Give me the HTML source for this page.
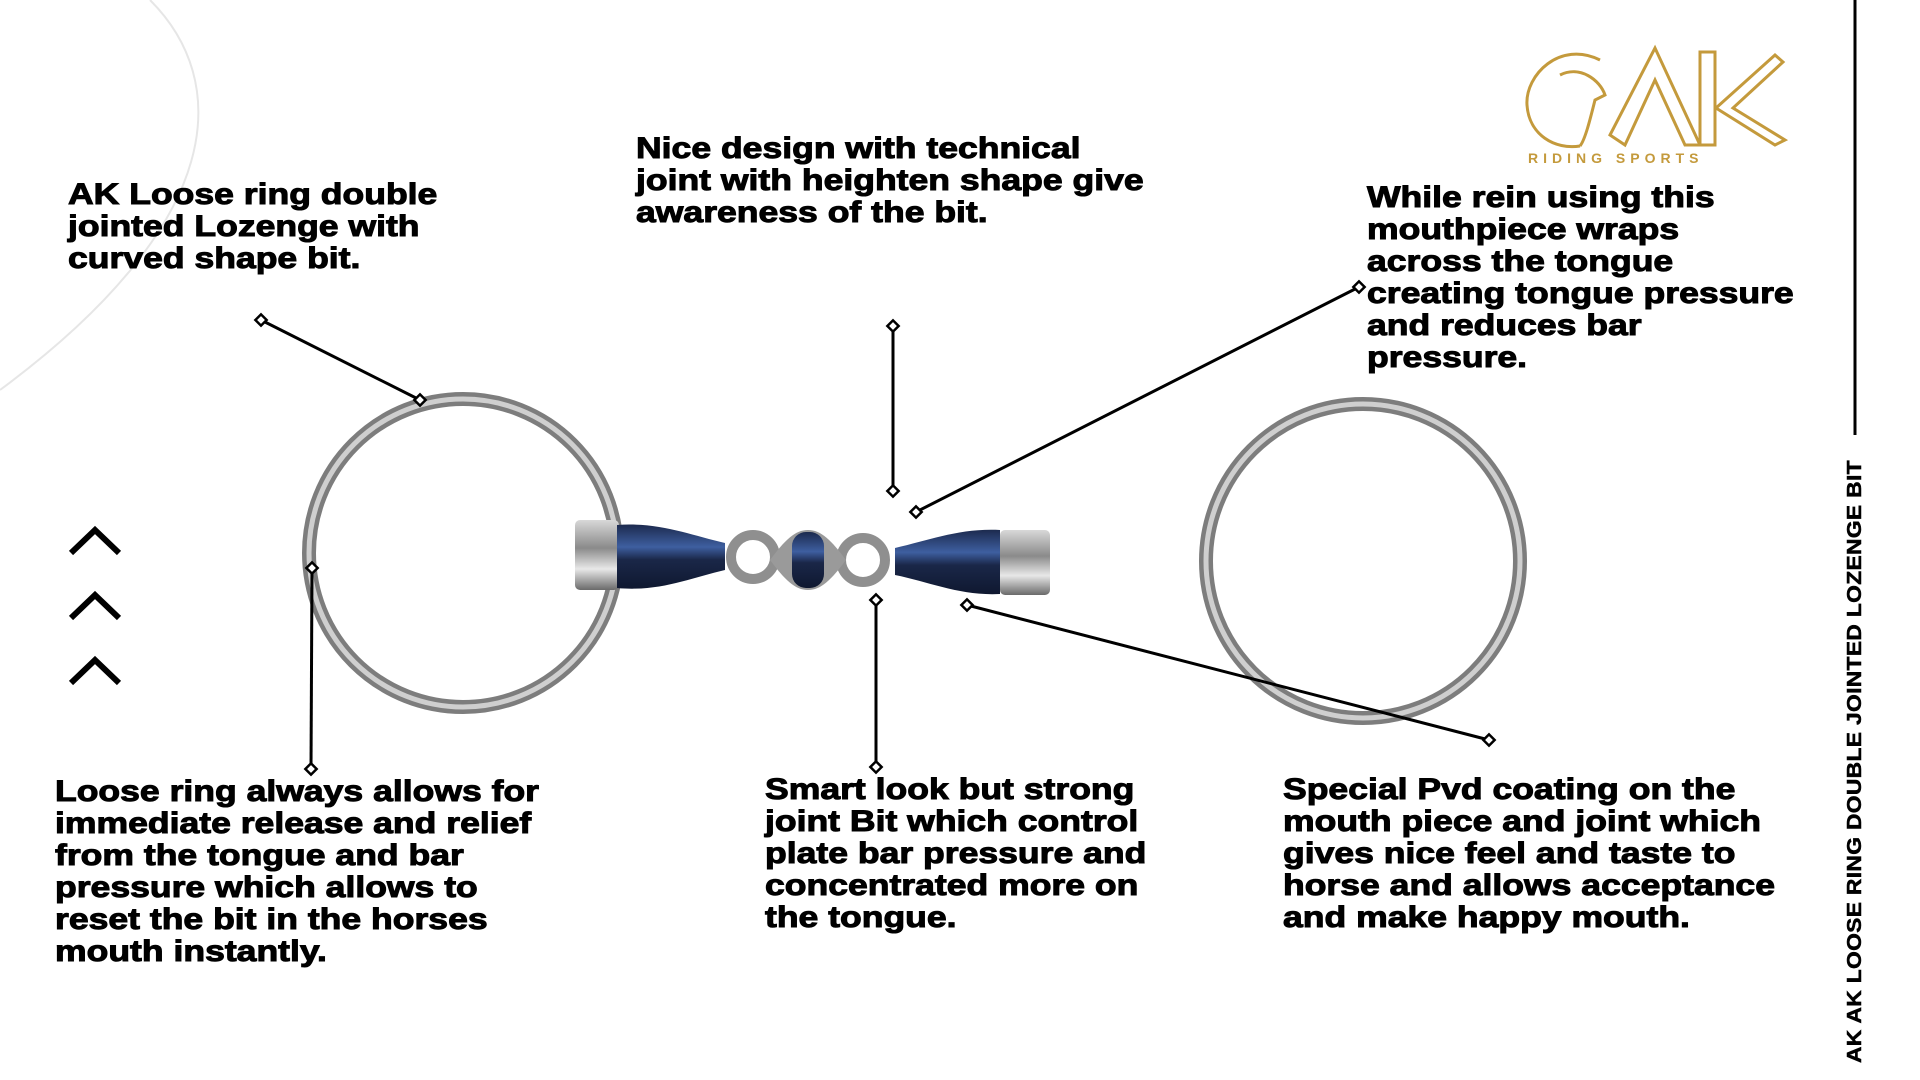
<!DOCTYPE html>
<html><head><meta charset="utf-8"><style>
html,body{margin:0;padding:0;background:#fff;}
body{width:1920px;height:1080px;position:relative;overflow:hidden;font-family:"Liberation Sans",Arial,sans-serif;}
.t{position:absolute;font-weight:bold;font-size:30px;line-height:32px;color:#000;-webkit-text-stroke:1px #000;letter-spacing:0px;white-space:nowrap;transform-origin:0 0;transform:scaleX(1.185);}
.v{position:absolute;left:1855px;top:1063px;transform-origin:0 0;transform:rotate(-90deg) translateY(-50%) scaleX(1.14);font-weight:bold;font-size:20px;line-height:20px;white-space:nowrap;letter-spacing:0.3px;-webkit-text-stroke:0.5px #000;}
</style></head><body>
<svg width="1920" height="1080" style="position:absolute;left:0;top:0">
<defs>
<linearGradient id="blue" x1="0" y1="0" x2="0" y2="1">
<stop offset="0" stop-color="#1c2a4e"/><stop offset="0.35" stop-color="#3e5fa0"/><stop offset="0.55" stop-color="#1a2748"/><stop offset="1" stop-color="#0f1830"/></linearGradient>
<linearGradient id="steel" x1="0" y1="0" x2="0" y2="1">
<stop offset="0" stop-color="#d8d8d8"/><stop offset="0.4" stop-color="#8a8a8a"/><stop offset="0.7" stop-color="#e8e8e8"/><stop offset="1" stop-color="#6a6a6a"/></linearGradient>
</defs>
<path d="M150,0 C230,80 230,220 0,390" fill="none" stroke="#e6e6e6" stroke-width="2"/>
<circle cx="463" cy="553" r="154" fill="none" stroke="#7d7d7d" stroke-width="14"/>
<circle cx="463" cy="553" r="154" fill="none" stroke="#cfcfcf" stroke-width="5"/>
<circle cx="1363" cy="561" r="157" fill="none" stroke="#7d7d7d" stroke-width="14"/>
<circle cx="1363" cy="561" r="157" fill="none" stroke="#cfcfcf" stroke-width="5"/>
<rect x="575" y="520" width="44" height="70" rx="5" fill="url(#steel)"/>
<path d="M617,525 C660,522 690,535 725,543 L725,570 C690,578 660,592 617,588 Z" fill="url(#blue)"/>
<path d="M1000,530 C960,528 930,540 895,548 L895,575 C930,582 960,596 1000,594 Z" fill="url(#blue)"/>
<rect x="1000" y="530" width="50" height="65" rx="5" fill="url(#steel)"/>
<circle cx="753" cy="557" r="22" fill="none" stroke="#8f8f8f" stroke-width="10"/>
<circle cx="863" cy="560" r="22" fill="none" stroke="#8f8f8f" stroke-width="10"/>
<path d="M770,560 C785,540 795,530 808,530 C821,530 831,540 846,560 C831,580 821,590 808,590 C795,590 785,580 770,560Z" fill="#9a9a9a"/>
<rect x="792" y="532" width="32" height="56" rx="14" fill="url(#blue)"/>
<g stroke="#000" stroke-width="3" fill="#fff">
<line x1="261" y1="320" x2="420" y2="400"/>
<line x1="893" y1="326" x2="893" y2="491"/>
<line x1="1359" y1="287" x2="916" y2="512"/>
<line x1="312" y1="568" x2="311" y2="769"/>
<line x1="876" y1="600" x2="876" y2="767"/>
<line x1="967" y1="605" x2="1489" y2="740"/>
<g stroke-width="2.5">
<rect x="-4" y="-4" width="8" height="8" transform="translate(261,320) rotate(45)"/>
<rect x="-4" y="-4" width="8" height="8" transform="translate(420,400) rotate(45)"/>
<rect x="-4" y="-4" width="8" height="8" transform="translate(893,326) rotate(45)"/>
<rect x="-4" y="-4" width="8" height="8" transform="translate(893,491) rotate(45)"/>
<rect x="-4" y="-4" width="8" height="8" transform="translate(1359,287) rotate(45)"/>
<rect x="-4" y="-4" width="8" height="8" transform="translate(916,512) rotate(45)"/>
<rect x="-4" y="-4" width="8" height="8" transform="translate(312,568) rotate(45)"/>
<rect x="-4" y="-4" width="8" height="8" transform="translate(311,769) rotate(45)"/>
<rect x="-4" y="-4" width="8" height="8" transform="translate(876,600) rotate(45)"/>
<rect x="-4" y="-4" width="8" height="8" transform="translate(876,767) rotate(45)"/>
<rect x="-4" y="-4" width="8" height="8" transform="translate(967,605) rotate(45)"/>
<rect x="-4" y="-4" width="8" height="8" transform="translate(1489,740) rotate(45)"/>
</g>
</g>
<g stroke="#000" stroke-width="6" fill="none">
<polyline points="71,553 95,530 119,553"/>
<polyline points="71,618 95,595 119,618"/>
<polyline points="71,683 95,660 119,683"/>
</g>
<line x1="1855" y1="0" x2="1855" y2="435" stroke="#000" stroke-width="3"/>
<g fill="none" stroke="#c49a3c" stroke-width="3">
<path d="M1600,60 C1560,40 1525,75 1527,105 C1529,135 1555,150 1580,146"/>
<path d="M1560,75 C1580,65 1600,80 1605,95 L1595,100 C1590,120 1585,140 1580,146"/>
<path d="M1610,135 L1655,48 L1700,145 L1685,145 L1655,80 L1625,145 Z"/>
<path d="M1700,52 L1715,52 L1715,145 L1700,145 Z"/>
<path d="M1716,108 L1775,55 L1783,62 L1733,108 L1785,140 L1775,145 Z"/>
</g>
<text x="1528" y="163" fill="#c49a3c" font-family="Liberation Sans" font-size="14" font-weight="bold" letter-spacing="5">RIDING   SPORTS</text>
</svg>

<div class="t" style="left:68px;top:179px">AK Loose ring double<br>jointed Lozenge with<br>curved shape bit.</div>
<div class="t" style="left:636px;top:133px">Nice design with technical<br>joint with heighten shape give<br>awareness of the bit.</div>
<div class="t" style="left:1367px;top:182px">While rein using this<br>mouthpiece wraps<br>across the tongue<br>creating tongue pressure<br>and reduces bar<br>pressure.</div>
<div class="t" style="left:55px;top:776px">Loose ring always allows for<br>immediate release and relief<br>from the tongue and bar<br>pressure which allows to<br>reset the bit in the horses<br>mouth instantly.</div>
<div class="t" style="left:765px;top:774px">Smart look but strong<br>joint Bit which control<br>plate bar pressure and<br>concentrated more on<br>the tongue.</div>
<div class="t" style="left:1283px;top:774px">Special Pvd coating on the<br>mouth piece and joint which<br>gives nice feel and taste to<br>horse and allows acceptance<br>and make happy mouth.</div>
<div class="v">AK AK LOOSE RING DOUBLE JOINTED LOZENGE BIT</div>
</body></html>
